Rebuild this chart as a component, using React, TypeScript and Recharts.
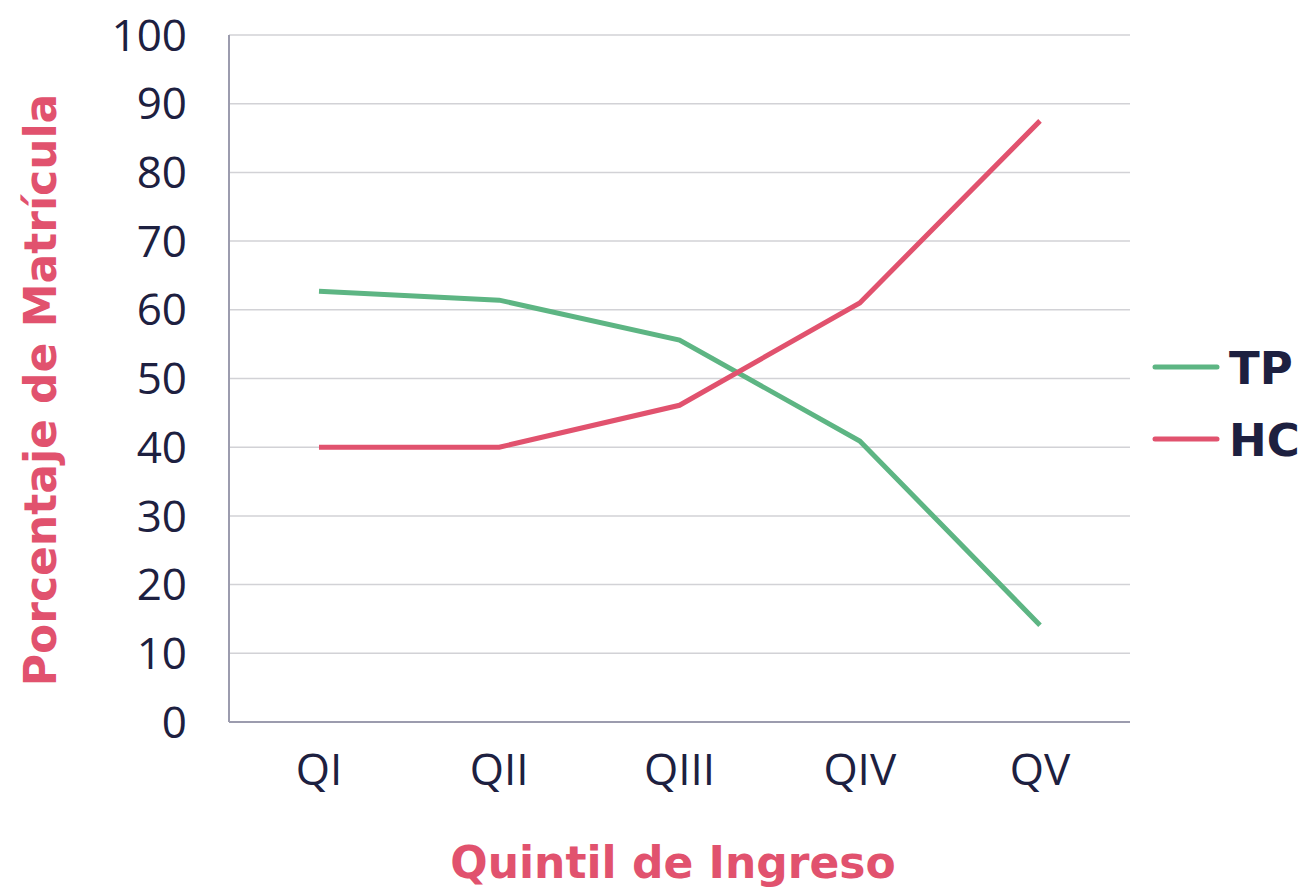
import React from "react";
import { LineChart, Line, XAxis, YAxis, CartesianGrid, Label } from "recharts";

const quintiles = ["QI", "QII", "QIII", "QIV", "QV"];
const tpValues = [62.7, 61.4, 55.6, 40.9, 14.1];
const hcValues = [40, 40, 46.1, 61, 87.5];
const yTicks = [0, 10, 20, 30, 40, 50, 60, 70, 80, 90, 100];

const GREEN = "#5db583";
const RED = "#e1526e";
const NAVY = "#1d2040";
const FONT = "'Open Sans', sans-serif";
const BOLD_FONT = "'DejaVu Sans', sans-serif";

const data = quintiles.map((q, i) => ({ name: q, TP: tpValues[i], HC: hcValues[i] }));

const legendItems = [
  { label: "TP", color: GREEN },
  { label: "HC", color: RED },
];

// legend sits to the right of the plot, outside the chart layout
const SideLegend = () => (
  <svg width={160} height={150} style={{ position: "absolute", left: 1147, top: 340 }}>
    {legendItems.map((item, i) => (
      <g key={item.label} transform={`translate(0, ${i * 72})`}>
        <line x1={8} y1={27} x2={70} y2={27} stroke={item.color} strokeWidth={5} strokeLinecap="round" />
        <text x={82} y={44} fill={NAVY} fontSize={45} fontWeight={700} fontFamily={BOLD_FONT}>
          {item.label}
        </text>
      </g>
    ))}
  </svg>
);

const App: React.FC = () => {
  const tickStyle = { fill: NAVY, fontSize: 44, fontFamily: FONT, fontWeight: 400 };
  return (
    <div style={{ position: "absolute", left: 0, top: 0, width: 1307, height: 891, background: "#fff" }}>
      <LineChart width={1307} height={891} data={data} margin={{ top: 35, right: 177, bottom: 0, left: 0 }}>
        <CartesianGrid vertical={false} stroke="#d2d2d6" strokeWidth={1.5} />
        <XAxis
          dataKey="name"
          height={169}
          padding={{ left: 90, right: 90 }}
          tickLine={false}
          tickSize={0}
          tickMargin={32}
          axisLine={{ stroke: "#9c9cae", strokeWidth: 2 }}
          tick={tickStyle}
        >
          <Label
            content={() => (
              <text x={673} y={878} textAnchor="middle" fill={RED} fontSize={44} fontWeight={700} fontFamily={BOLD_FONT}>
                Quintil de Ingreso
              </text>
            )}
          />
        </XAxis>
        <YAxis
          width={229}
          domain={[0, 100]}
          ticks={yTicks}
          interval={0}
          tickLine={false}
          tickSize={0}
          tickMargin={42}
          axisLine={{ stroke: "#9c9cae", strokeWidth: 2 }}
          tick={tickStyle}
        >
          <Label
            content={() => (
              <text
                x={56}
                y={390}
                transform="rotate(-90, 56, 390)"
                textAnchor="middle"
                fill={RED}
                fontSize={44}
                fontWeight={700}
                fontFamily={BOLD_FONT}
              >
                Porcentaje de Matrícula
              </text>
            )}
          />
        </YAxis>
        <Line type="linear" dataKey="TP" stroke={GREEN} strokeWidth={5} dot={false} isAnimationActive={false} />
        <Line type="linear" dataKey="HC" stroke={RED} strokeWidth={5} dot={false} isAnimationActive={false} />
      </LineChart>
      <SideLegend />
    </div>
  );
};

export default App;
